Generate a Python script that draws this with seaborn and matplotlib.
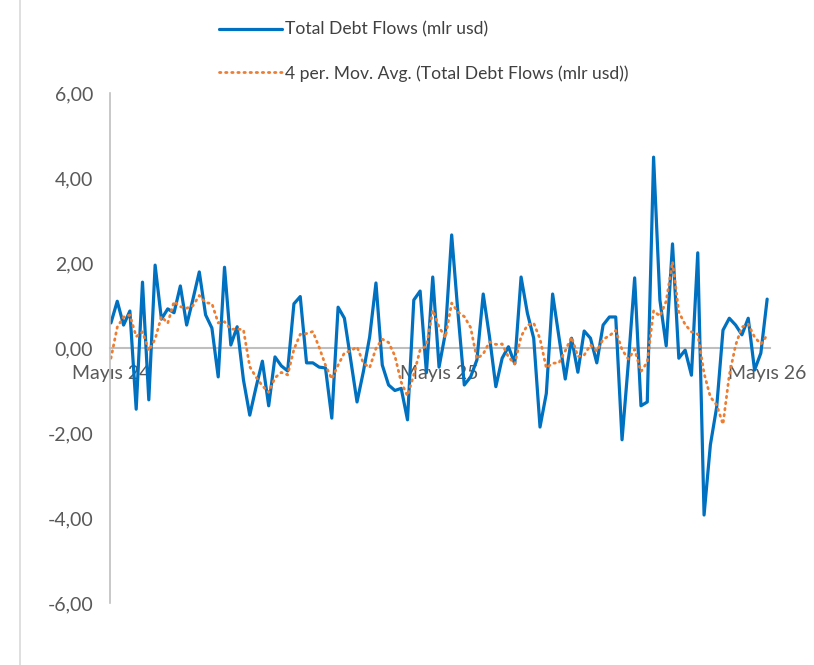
import numpy as np
import pandas as pd
import matplotlib
matplotlib.use("Agg")
import matplotlib.pyplot as plt
from matplotlib.lines import Line2D
import seaborn as sns

# weekly total debt flows (mlr usd); first three weeks sit before the visible axis range
earlier = [-1.82, -0.42, 0.69]
flows = [
    0.59, 1.10, 0.54, 0.87, -1.44, 1.55, -1.22, 1.95, 0.68, 0.92,
    0.83, 1.46, 0.54, 1.15, 1.79, 0.78, 0.47, -0.68, 1.90, 0.07,
    0.50, -0.75, -1.58, -0.92, -0.31, -1.36, -0.21, -0.42, -0.54, 1.04,
    1.21, -0.35, -0.35, -0.45, -0.47, -1.65, 0.96, 0.70, -0.28, -1.27,
    -0.56, 0.26, 1.53, -0.40, -0.87, -1.00, -0.95, -1.69, 1.13, 1.34,
    -0.58, 1.67, -0.45, 0.35, 2.66, 0.82, -0.87, -0.68, -0.28, 1.27,
    0.26, -0.91, -0.24, 0.03, -0.37, 1.67, 0.82, 0.23, -1.86, -1.07,
    1.27, 0.26, -0.73, 0.23, -0.57, 0.40, 0.23, -0.35, 0.54, 0.73,
    0.73, -2.16, -0.35, 1.65, -1.36, -1.27, 4.49, 1.13, 0.05, 2.45,
    -0.24, -0.05, -0.64, 2.24, -3.93, -2.28, -1.39, 0.42, 0.70, 0.54,
    0.31, 0.70, -0.52, -0.12, 1.15,
]
tick_labels = ["Mayıs 24", "Mayıs 25", "Mayıs 26"]
y_ticks = [-6, -4, -2, 0, 2, 4, 6]

series = earlier + flows
weeks = pd.date_range("2024-05-03", periods=len(flows), freq="7D")
all_weeks = pd.date_range(weeks[0] - pd.Timedelta(weeks=len(earlier)), periods=len(series), freq="7D")
df = pd.DataFrame({"week": all_weeks, "flow": series})
df["ma4"] = df["flow"].rolling(4).mean()
visible = df[df["week"] >= weeks[0]]

sns.set_theme(style="white")
plt.rcParams["font.family"] = ["Lato", "DejaVu Sans"]

fig = plt.figure(figsize=(8.14, 6.65), dpi=100)
ax = fig.add_axes([110 / 814, 1 - 603 / 665, 660 / 814, 510 / 665])

sns.lineplot(data=visible, x="week", y="flow", color="#0070C0", linewidth=2.3,
             ax=ax, label="Total Debt Flows (mlr usd)")
sns.lineplot(data=df, x="week", y="ma4", color="#ED7D31", linewidth=2.0,
             ax=ax, label="4 per. Mov. Avg. (Total Debt Flows (mlr usd))")
ax.lines[1].set_linestyle((0, (0.5, 1.7)))
ax.lines[1].set_dash_capstyle("round")

step = pd.Timedelta(days=7)
ax.set_xlim(weeks[0] - step * 0.15, weeks[-1] + step * 0.45)
ax.set_ylim(-6, 6)

ax.set_xticks(weeks[[0, 52, 104]])
ax.set_xticklabels(tick_labels)
ax.set_yticks(y_ticks)
ax.set_yticklabels([f"{v:.2f}".replace(".", ",") for v in y_ticks])
ax.set_xlabel("")
ax.set_ylabel("")

for s in ["top", "right"]:
    ax.spines[s].set_visible(False)
ax.spines["left"].set_color("#bfbfbf")
ax.spines["left"].set_linewidth(1.2)
ax.spines["bottom"].set_position(("data", 0))
ax.spines["bottom"].set_color("#bfbfbf")
ax.spines["bottom"].set_linewidth(1.5)
ax.spines["bottom"].set_zorder(0)

ax.tick_params(axis="y", length=0, pad=12, labelsize=14, labelcolor="#595959")
ax.tick_params(axis="x", length=0, pad=12, labelsize=14, labelcolor="#595959")

ax.legend_.remove()
handles, labels = ax.get_legend_handles_labels()
fig.legend(handles, labels, loc="upper left", bbox_to_anchor=(203 / 814, 1 - 6 / 665),
           frameon=False, fontsize=12.6, handlelength=3.6, handletextpad=0.2,
           labelspacing=1.55, labelcolor="#404040")

# left border of the chart area
fig.add_artist(Line2D([20 / 814, 20 / 814], [0, 1], color="#d9d9d9", linewidth=1.2))

fig.savefig("out.png", dpi=100)
